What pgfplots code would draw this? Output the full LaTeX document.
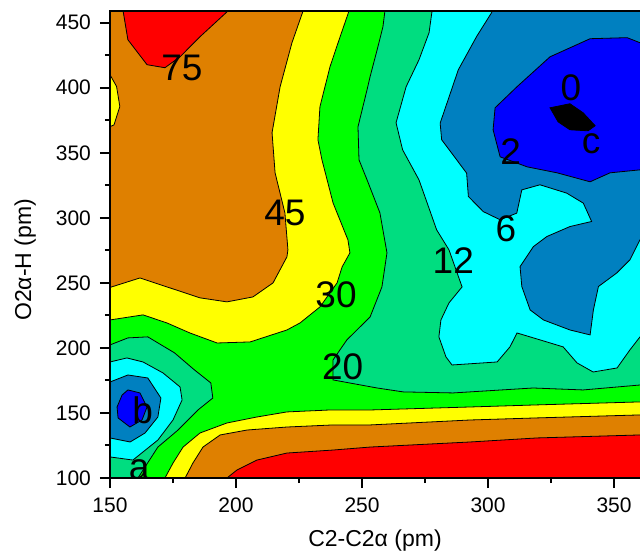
\documentclass[border=0pt]{standalone}
\usepackage{fontspec}
\setmainfont{Liberation Sans}
\usepackage{pgfplots}
\pgfplotsset{compat=1.18}
\definecolor{cRed}{RGB}{255,0,0}
\definecolor{cOrange}{RGB}{223,128,0}
\definecolor{cYellow}{RGB}{255,255,0}
\definecolor{cGreen}{RGB}{0,255,0}
\definecolor{cTeal}{RGB}{0,221,128}
\definecolor{cCyan}{RGB}{0,255,255}
\definecolor{cSteel}{RGB}{0,128,192}
\definecolor{cBlue}{RGB}{0,0,255}
\newcommand{\lbl}{\fontsize{18.5}{19}\selectfont}

\begin{document}
\begin{tikzpicture}
\useasboundingbox (-55pt,-37.5pt) rectangle (265pt,239pt);
\begin{axis}[
    scale only axis,
    width=265pt, height=233.5pt,
    xmin=150, xmax=360.3, ymin=100, ymax=459,
    axis on top, no markers,
    axis x line*=bottom, axis y line*=left,
    axis line style={line width=1pt},
    xtick={150,200,...,350}, ytick={100,150,...,450},
    minor x tick num=1, minor y tick num=1,
    tick align=outside,
    major tick length=5pt, minor tick length=2.5pt,
    tick style={black, line width=1pt},
    ticklabel style={font=\fontsize{10.5}{12}\selectfont},
    xticklabel style={yshift=-1.5pt},
    yticklabel style={xshift=-1pt},
    /pgf/number format/assume math mode=true,
    xlabel={C2-C2α (pm)}, ylabel={O2α-H (pm)},
    label style={font=\fontsize{11.5}{13}\selectfont},
    xlabel style={at={(axis description cs:0.5,-0.133)}, anchor=center},
    ylabel style={at={(axis description cs:-0.16,0.467)}, anchor=center},
    cl/.style={draw=black, line width=0.4pt},
]
% base level 20-30
\addplot[fill=cGreen, draw=none] coordinates {(140,90)(370,90)(370,470)(140,470)} -- cycle;

% upper left: >30, >45, >75
\addplot[cl, fill=cYellow] coordinates {
(140,470)(246,470)(244.6,457.7)(241.3,439.2)(237.3,416.2)(233.3,385.4)(232.5,360)
(234.1,344.6)(238.5,311.5)(244.4,283.1)(245.2,273.1)(242.1,262.3)(240.1,250)
(233.3,231.5)(225.4,219.2)(220.2,213.8)(205.6,204.6)(192.5,203.8)(181.7,211.5)
(172.6,219.2)(163.1,225.4)(150,221.5)(140,221)} -- cycle;
\addplot[cl, fill=cOrange] coordinates {
(140,470)(227.5,470)(226.6,459)(222.2,434.6)(217.5,400.8)(214.3,365.4)(215.5,334.6)
(219.4,303.8)(220.6,275.4)(220.2,270)(214.7,250)(206.7,239.2)(196.4,235.4)
(185.7,238.5)(172.6,246.9)(161.9,253.8)(150,246.5)(140,246)} -- cycle;
\addplot[cl, fill=cYellow] coordinates {
(145,410.5)(150,410)(152.6,401)(153.9,385.6)(151.6,371.5)(150,370)(145,370)} -- cycle;
\addplot[cl, fill=cRed] coordinates {
(155,470)(155.2,459)(157.1,436.9)(164.7,417.7)(171.8,415.4)(177.8,423.8)
(185.7,439.2)(196.8,459)(197,470)} -- cycle;

% bottom bands
\addplot[cl, fill=cYellow] coordinates {
(170.5,90)(171.8,100)(175,111.5)(179,123.8)(185.7,134.6)(196.4,142.3)(208.3,146.9)
(220.2,150.8)(237.3,152.3)(253.2,152.3)(292.9,154.6)(319.4,156.2)(360.3,158.5)
(370,159)(370,90)} -- cycle;
\addplot[cl, fill=cOrange] coordinates {
(179,90)(179.8,100)(182.9,111.5)(186.9,123.8)(193.7,133.1)(204.4,136.9)(220.2,139.2)
(238.5,140.8)(253.2,140.8)(292.9,144.6)(319.4,146.2)(360.3,148.5)(370,149)(370,90)} -- cycle;
\addplot[cl, fill=cRed] coordinates {
(195.5,90)(196.4,100)(200.4,106.2)(208.3,113.8)(220.2,119.2)(238.5,121.5)
(253.2,123.8)(292.9,127.7)(319.4,130.8)(360.3,133.1)(370,133.5)(370,90)} -- cycle;

% upper right: <20, <12, <6, <2, <0
\addplot[cl, fill=cTeal] coordinates {
(259.5,470)(259.1,459.2)(258.3,446.9)(256,429.2)(253.2,408.5)(252,398.5)(248.4,370)
(248.8,344.6)(252,329.2)(257.1,303.8)(259.9,273.1)(257.9,246.9)(253.2,223.8)
(244,206.2)(238.5,190.8)(238.5,175.4)(256,169.2)(266.3,166.2)(286.1,165.4)
(317.9,169.2)(337.7,167.7)(360.3,171.5)(370,172)(370,470)} -- cycle;
\addplot[cl, fill=cCyan] coordinates {
(278,470)(277.8,459.2)(276.6,442.3)(272.6,421.5)(267.5,400.8)(263.5,373.1)
(266.1,352.3)(272.6,329.2)(276.8,306.2)(279.6,290.8)(284.5,275.4)(289.7,246.9)
(284.5,234.6)(281.3,221.5)(280.5,208.5)(283.3,193.1)(285.7,186.9)(303.6,189.2)
(308.7,200.8)(311.5,211.5)(320.6,206.2)(329.8,200.8)(335.3,188.5)(341.7,181.5)
(351.2,184.6)(356.3,198.5)(360.3,208.5)(370,215)(370,470)} -- cycle;
\addplot[cl, fill=cSteel] coordinates {
(301.8,470)(301.5,458)(295.5,439.5)(288.2,413.8)(281,372.8)(281.6,360)(291.5,334.4)
(292.2,316.4)(298.1,304.8)(304.8,298.5)(311.4,303.6)(313.4,321.5)(320.6,325.4)
(331.2,319)(337.8,311.3)(341.1,297.2)(332.5,293.3)(323.3,285.6)(318,277.9)
(312.7,262.5)(313.4,247.2)(316.7,229.2)(322,221.5)(332.5,213.8)(340.5,210)
(341.8,229.2)(343.8,247.2)(351,257.5)(356.3,267.7)(360.3,283.1)(370,290)(370,470)} -- cycle;
\addplot[cl, fill=cBlue] coordinates {
(302.8,384.6)(311.5,400.8)(324.6,423.8)(340.5,437.7)(355.2,438.5)(360.3,434.6)
(370,430)(370,336)(360.3,336.9)(348.4,334.6)(340.5,327.7)(327.4,334.6)(315.5,339.2)
(304.8,346.9)(302,367.7)} -- cycle;
\addplot[cl, fill=black] coordinates {
(324.6,384.6)(332.5,387.7)(337.7,380.8)(342.5,370.8)(339.7,366.9)(332.5,367.7)
(327.8,373.8)} -- cycle;

% well b
\addplot[cl, fill=cTeal] coordinates {
(140,202)(150,202.3)(157.1,207.7)(165,208.5)(175.6,196.2)(183.5,183.1)(190,173.1)
(190.8,161.5)(184.9,152.3)(177,136.9)(169,123.8)(163.9,108.5)(161.1,100)(160.5,90)
(140,90)} -- cycle;
\addplot[cl, fill=cCyan] coordinates {
(140,189)(150,189.2)(156.7,192.3)(163.1,189.2)(171,180.8)(177.8,170)(178.6,160)
(175,144.6)(169,129.2)(159.1,113.8)(150,116.2)(140,116)} -- cycle;
\addplot[cl, fill=cSteel] coordinates {
(140,174)(150,173.8)(157.1,179.2)(165,176.9)(170.2,161.5)(169,146.9)(163.9,134.6)
(158,127.7)(150,130.8)(140,131)} -- cycle;
\addplot[cl, fill=cBlue] coordinates {
(157.1,167.7)(161.9,165.4)(164.7,154.6)(162.7,144.6)(157.9,139.2)(153.2,146.2)
(152.8,154.6)(154.8,163.8)} -- cycle;

% contour labels
\node[font=\lbl] at (axis cs:178.5,415.4) {75};
\node[font=\lbl] at (axis cs:219.4,303.6) {45};
\node[font=\lbl] at (axis cs:239.7,240.8) {30};
\node[font=\lbl] at (axis cs:242.3,185.6) {20};
\node[font=\lbl] at (axis cs:286.2,267.2) {12};
\node[font=\lbl] at (axis cs:307.1,291.5) {6};
\node[font=\lbl] at (axis cs:309,351) {2};
\node[font=\lbl] at (axis cs:332.9,399.8) {0};
\node[font=\lbl] at (axis cs:340.9,357) {c};
\node[font=\lbl] at (axis cs:163,152.3) {b};
\node[font=\lbl] at (axis cs:161.6,106.5) {a};
\end{axis}
\draw[line width=1pt] (-0.5pt,233.5pt) -- (265pt,233.5pt);
\end{tikzpicture}
\end{document}
